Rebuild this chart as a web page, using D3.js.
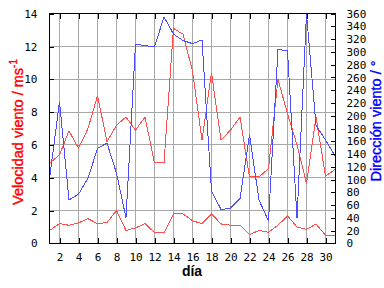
<!DOCTYPE html>
<html>
<head>
<meta charset="utf-8">
<script src="https://cdn.jsdelivr.net/npm/d3@7"></script>
<style>
  body { margin: 0; background: #fff; }
  svg { display: block; }
</style>
</head>
<body>
<div id="chart"></div>
<script>
var dias = d3.range(1, 32);
var velMedia = [0.8, 1.2, 1.1, 1.24, 1.5, 1.2, 1.26, 2.0, 0.78, 0.94, 1.2, 0.65, 0.65, 1.8, 1.8, 1.37,
                1.2, 1.8, 1.18, 1.1, 1.1, 0.53, 0.78, 0.67, 1.1, 1.67, 1.0, 0.84, 1.18, 0.49, 0.49];
var velMax = [4.9, 5.4, 6.85, 5.8, 7.0, 9.0, 6.2, 7.2, 7.7, 6.9, 7.7, 4.9, 4.9, 13.1, 12.75, 10.5,
              6.3, 10.4, 6.3, 6.9, 7.7, 4.05, 4.05, 4.55, 10.0, 7.9, 6.0, 3.65, 7.7, 4.1, 4.5];
var dirViento = [107, 222, 68, 77, 102, 149, 157, 110, 40, 312, 310, 308, 355, 328, 318, 313,
                 319, 82, 53, 55, 70, 170, 68, 35, 304, 302, 39, 360, 185, 162, 137];
var xTicks = d3.range(2, 31, 2);
var yTicks = d3.range(0, 15, 2);
var dirTicks = d3.range(0, 361, 20);

var width = 384, height = 288;
var plot = { left: 49.5, right: 335.5, top: 13.7, bottom: 243.3 };

var svg = d3.select('#chart').append('svg')
            .attr('width', width)
            .attr('height', height)
            .style('background', '#fff');

var xScale = d3.scaleLinear().domain([1, 31]).range([50, 335]);
var yScale = d3.scaleLinear().domain([0, 14]).range([plot.bottom, plot.top]);
var dirScale = d3.scaleLinear().domain([0, 360]).range([plot.bottom, plot.top]);

// grid
var grid = svg.append('g').attr('stroke', '#a8a8a8').attr('shape-rendering', 'crispEdges');
grid.selectAll('.gx').data(xTicks).enter().append('line')
    .attr('x1', d => xScale(d)).attr('x2', d => xScale(d))
    .attr('y1', plot.top).attr('y2', plot.bottom);
grid.selectAll('.gy').data(yTicks.slice(1, -1)).enter().append('line')
    .attr('x1', plot.left).attr('x2', plot.right)
    .attr('y1', d => yScale(d)).attr('y2', d => yScale(d));

// lines
function drawLine(values, scale, color) {
  var line = d3.line().x((d, i) => xScale(dias[i])).y(d => scale(d));
  svg.append('path').datum(values)
     .attr('d', line)
     .attr('fill', 'none')
     .attr('stroke', color)
     .attr('stroke-width', 1)
     .attr('shape-rendering', 'crispEdges');
}
drawLine(velMedia, yScale, '#ff4c4c');
drawLine(velMax, yScale, '#ff4c4c');
drawLine(dirViento, dirScale, '#4c4cff');

// frame
svg.append('rect')
   .attr('x', plot.left).attr('y', plot.top)
   .attr('width', plot.right - plot.left).attr('height', plot.bottom - plot.top)
   .attr('fill', 'none').attr('stroke', '#000')
   .attr('shape-rendering', 'crispEdges');

// axes (ticks inside)
var mono = '"DejaVu Sans Mono", monospace';
function styleAxis(g) {
  g.select('.domain').remove();
  g.selectAll('.tick line').attr('stroke', '#000').attr('shape-rendering', 'crispEdges');
  g.selectAll('.tick text').attr('fill', '#000').style('font-family', mono).style('font-size', '11px');
}

svg.append('g')
   .attr('transform', 'translate(0,' + plot.bottom + ')')
   .call(d3.axisBottom(xScale).tickValues(xTicks).tickSizeInner(-5).tickSizeOuter(0).tickPadding(10))
   .call(styleAxis);
svg.append('g')
   .attr('transform', 'translate(0,' + plot.top + ')')
   .call(d3.axisTop(xScale).tickValues(xTicks).tickSizeInner(-5).tickSizeOuter(0).tickFormat(''))
   .call(styleAxis);
svg.append('g')
   .attr('transform', 'translate(' + plot.left + ',0)')
   .call(d3.axisLeft(yScale).tickValues(yTicks).tickSizeInner(-4).tickSizeOuter(0).tickPadding(12))
   .call(styleAxis);
svg.append('g')
   .attr('transform', 'translate(' + plot.right + ',0)')
   .call(d3.axisRight(dirScale).tickValues(dirTicks).tickSizeInner(-5).tickSizeOuter(0).tickPadding(11))
   .call(styleAxis);

// titles (thin stroke to mimic the heavier unsmoothed text)
var sans = '"Liberation Sans", Arial, sans-serif';
var yLab = svg.append('text')
   .attr('transform', 'translate(23,132) rotate(-90)')
   .attr('text-anchor', 'middle')
   .attr('fill', '#ff0000')
   .attr('stroke', '#ff0000').attr('stroke-width', 0.4)
   .style('font-family', sans).style('font-size', '14.5px');
yLab.append('tspan').text('Velocidad viento / ms');
yLab.append('tspan').attr('dy', -6).style('font-size', '10px').text('-1');

svg.append('text')
   .attr('transform', 'translate(381,121) rotate(-90)')
   .attr('text-anchor', 'middle')
   .attr('fill', '#0000ff')
   .attr('stroke', '#0000ff').attr('stroke-width', 0.4)
   .style('font-family', sans).style('font-size', '14.5px')
   .text('Dirección viento / °');

svg.append('text')
   .attr('x', 192).attr('y', 276)
   .attr('text-anchor', 'middle')
   .attr('fill', '#000')
   .style('font-family', sans).style('font-size', '14px').style('font-weight', 'bold')
   .text('día');
</script>
</body>
</html>
